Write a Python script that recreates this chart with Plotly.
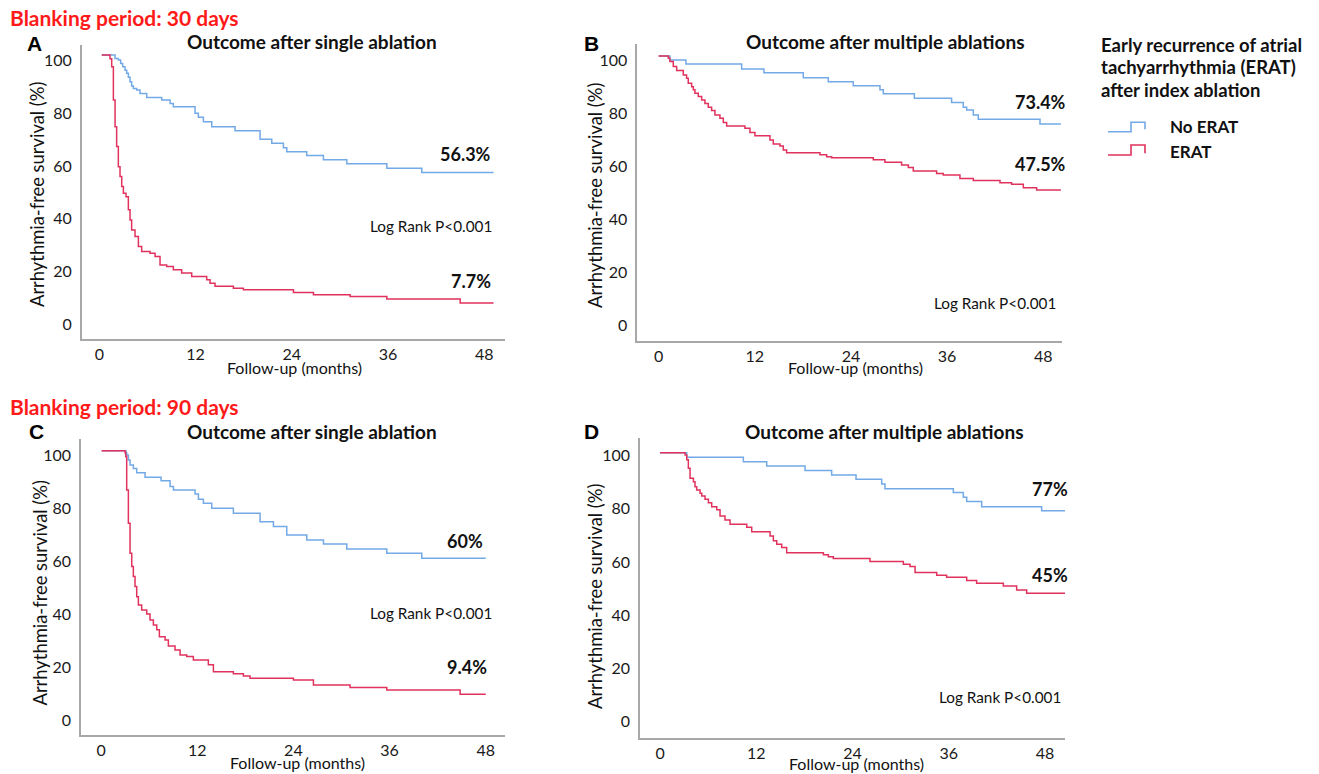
import plotly.graph_objects as go

W, H = 1319, 774
FONT = "Lato"
BLUE = "#72a9e6"
RED = "#e0325c"
AXIS = "#a8a8a8"

x_ticks = [0, 12, 24, 36, 48]
y_ticks = [0, 20, 40, 60, 80, 100]

# ---- Panel A: blanking 30 days, single ablation ----
a_noerat_t = [0.3, 1.96, 2.37, 2.66, 2.91, 3.20, 3.41, 3.62, 3.83, 4.03, 4.24, 4.66, 5.07, 5.91, 7.78, 8.82, 9.23,
              11.94, 12.35, 12.98, 14.02, 16.93, 20.05, 21.51, 22.96, 23.38, 25.87, 27.95, 30.87, 35.86, 40.22, 49.17]
a_noerat_v = [101.9, 100.6, 100.0, 98.7, 97.5, 96.2, 95.0, 93.5, 91.8, 90.2, 89.3, 88.7, 87.4, 85.9, 84.9, 83.6, 82.4,
              79.9, 78.4, 76.7, 74.8, 73.3, 70.1, 68.6, 66.9, 65.4, 63.9, 62.3, 60.8, 59.1, 57.5, 57.5]
a_erat_t = [0.3, 1.33, 1.54, 1.75, 1.96, 2.16, 2.37, 2.58, 2.79, 3.00, 3.33, 3.62, 3.83, 4.03, 4.45, 4.87, 5.28, 6.32,
            6.95, 7.57, 8.40, 9.23, 10.27, 11.52, 13.39, 13.81, 14.43, 16.72, 17.97, 24.21, 26.71, 31.28, 35.86, 45.01, 49.17]
a_erat_v = [101.9, 100.5, 97.5, 84.9, 74.8, 67.3, 59.7, 56.0, 52.2, 49.7, 48.4, 43.4, 39.6, 35.8, 33.3, 29.6, 27.7, 27.0,
            25.8, 22.6, 22.0, 20.8, 19.5, 18.2, 17.0, 15.7, 14.5, 13.8, 13.2, 12.2, 11.3, 10.7, 9.7, 8.2, 8.2]

# ---- Panel B: blanking 30 days, multiple ablations ----
b_noerat_t = [0, 1.41, 3.41, 10.36, 13.14, 18.05, 21.17, 24.29, 27.62, 28.04, 31.91, 36.56, 38.02, 38.44, 39.27, 39.89, 47.59, 50.2]
b_noerat_v = [101.5, 100.0, 98.5, 96.6, 95.2, 93.3, 91.8, 90.3, 88.7, 87.2, 85.5, 83.9, 82.1, 81.1, 79.2, 77.6, 75.8, 75.8]
b_erat_t = [0, 1.21, 1.41, 1.83, 2.25, 3.08, 3.49, 3.70, 4.12, 4.33, 4.53, 4.95, 5.37, 5.78, 6.20, 6.61, 7.03, 7.65, 8.07,
            8.49, 10.77, 11.40, 12.02, 13.89, 14.31, 15.14, 15.56, 15.97, 20.13, 20.97, 21.59, 26.79, 28.24, 30.32,
            31.16, 31.78, 34.69, 35.52, 37.60, 39.27, 42.60, 44.05, 45.51, 47.17, 50.2]
b_erat_v = [101.5, 100.6, 99.4, 97.5, 96.0, 94.3, 93.1, 91.2, 89.9, 88.7, 87.4, 86.2, 84.9, 83.6, 82.1, 80.9, 79.2, 78.0, 76.4,
            75.1, 74.2, 72.6, 71.4, 69.8, 68.3, 67.5, 66.0, 65.0, 64.2, 63.5, 63.1, 62.3, 61.4, 60.4,
            59.4, 58.1, 57.2, 56.6, 55.3, 54.5, 53.7, 53.1, 51.8, 50.9, 50.9]

# ---- Panel C: blanking 90 days, single ablation ----
c_noerat_t = [0.08, 3.12, 3.20, 3.41, 3.62, 4.03, 4.45, 5.49, 7.49, 8.61, 9.03, 11.73, 12.15, 12.77, 13.81, 16.51, 19.84,
              21.51, 23.17, 25.67, 27.75, 30.66, 35.65, 40.02, 48.0]
c_noerat_v = [101.6, 100.8, 100.0, 98.1, 96.2, 94.9, 93.3, 91.6, 90.3, 88.1, 86.8, 85.3, 83.3, 81.8, 79.9, 78.0, 74.8,
              73.0, 69.8, 67.9, 66.4, 64.5, 62.9, 61.0, 61.0]
c_erat_t = [0.08, 3.00, 3.08, 3.20, 3.41, 3.62, 3.83, 4.03, 4.24, 4.45, 4.66, 5.07, 5.70, 6.11, 6.53, 6.95, 7.28, 7.99, 8.40,
            9.23, 9.86, 10.69, 11.52, 13.39, 14.02, 16.51, 17.76, 18.59, 24.00, 26.50, 31.07, 35.65, 44.80, 48.0]
c_erat_v = [101.6, 100.8, 99.4, 86.8, 74.2, 62.9, 57.9, 54.1, 50.3, 46.5, 43.4, 41.5, 40.0, 37.7, 35.8, 34.0, 31.4, 30.2, 27.9,
            26.4, 24.5, 23.9, 22.6, 20.8, 18.2, 17.4, 16.6, 15.7, 15.1, 13.2, 12.2, 11.3, 9.7, 9.7]

# ---- Panel D: blanking 90 days, multiple ablations ----
d_noerat_t = [0, 3.33, 10.39, 13.30, 18.08, 21.40, 24.44, 27.64, 28.05, 36.57, 37.82, 38.24, 40.11, 47.59, 50.5]
d_noerat_v = [101.1, 99.4, 97.7, 96.1, 94.4, 92.7, 91.1, 89.3, 87.5, 86.1, 84.3, 82.7, 80.8, 79.3, 79.3]
d_erat_t = [0, 3.12, 3.33, 3.53, 3.74, 4.16, 4.36, 4.57, 4.99, 5.20, 5.61, 6.03, 6.44, 7.07, 7.48, 8.10, 8.73, 10.81, 11.43,
            13.72, 14.13, 14.55, 15.17, 15.79, 20.37, 20.99, 21.61, 26.18, 30.34, 31.17, 31.80, 34.50, 35.74, 38.24,
            39.48, 42.81, 44.47, 45.72, 50.5]
d_erat_v = [101.1, 100.2, 98.4, 95.2, 91.5, 90.2, 88.3, 87.1, 85.8, 84.8, 83.6, 82.3, 80.8, 79.6, 77.3, 75.8, 74.2, 73.1, 71.4,
            69.8, 68.0, 66.7, 65.4, 63.5, 62.7, 62.0, 61.3, 60.2, 59.1, 58.3, 56.0, 55.0, 54.3, 53.0,
            52.0, 51.0, 49.5, 48.2, 48.2]

panels = [
    dict(key="", noerat=(a_noerat_t, a_noerat_v), erat=(a_erat_t, a_erat_v),
         dom_px=(81.7, 505, 45, 339), xr=[-2.2, 50.6], yr=[-5.4, 105.7]),
    dict(key="2", noerat=(b_noerat_t, b_noerat_v), erat=(b_erat_t, b_erat_v),
         dom_px=(637.3, 1061.7, 44, 340.7), xr=[-2.66, 50.3], yr=[-5.9, 106.0]),
    dict(key="3", noerat=(c_noerat_t, c_noerat_v), erat=(c_erat_t, c_erat_v),
         dom_px=(81, 505, 439.3, 735), xr=[-2.5, 50.4], yr=[-5.7, 105.9]),
    dict(key="4", noerat=(d_noerat_t, d_noerat_v), erat=(d_erat_t, d_erat_v),
         dom_px=(640, 1065, 438.3, 738.3), xr=[-2.5, 50.5], yr=[-6.3, 106.5]),
]


def px(x, y):
    return x / W, 1 - y / H


fig = go.Figure()
layout = dict(width=W, height=H, margin=dict(l=0, r=0, t=0, b=0), autosize=False,
              paper_bgcolor="white", plot_bgcolor="white", showlegend=False,
              font=dict(family=FONT, color="#1a1a1a"))

for p in panels:
    k = p["key"]
    for (t, v), col in ((p["noerat"], BLUE), (p["erat"], RED)):
        fig.add_trace(go.Scatter(x=t, y=v, mode="lines", line=dict(color=col, width=1.5, shape="hv"),
                                 xaxis="x" + k, yaxis="y" + k, hoverinfo="skip"))
    x0, x1, y0, y1 = p["dom_px"]
    layout["xaxis" + k] = dict(domain=[x0 / W, x1 / W], range=p["xr"], anchor="y" + k,
                               showline=True, linecolor=AXIS, linewidth=1.5, showgrid=False, zeroline=False,
                               tickvals=x_ticks, ticks="", ticklabelstandoff=0,
                               tickfont=dict(family=FONT, size=16, color="#1a1a1a"))
    layout["yaxis" + k] = dict(domain=[1 - y1 / H, 1 - y0 / H], range=p["yr"], anchor="x" + k,
                               showline=True, linecolor=AXIS, linewidth=1.5, showgrid=False, zeroline=False,
                               tickvals=y_ticks, ticks="", ticklabelstandoff=5,
                               tickfont=dict(family=FONT, size=16, color="#1a1a1a"))

fig.update_layout(**layout)

ann = []


def text(x, y, s, size, bold=False, color="#111111", xanchor="center", angle=0, family=FONT):
    xx, yy = px(x, y)
    ann.append(dict(x=xx, y=yy, xref="paper", yref="paper", text=("<b>%s</b>" % s) if bold else s,
                    showarrow=False, xanchor=xanchor, yanchor="middle", textangle=angle,
                    font=dict(family=family, size=size, color=color)))


# Section headings
text(8, 17, "Blanking period: 30 days", 21, bold=True, color="#ff1a1a", xanchor="left")
text(8, 406, "Blanking period: 90 days", 21, bold=True, color="#ff1a1a", xanchor="left")

# Panel letters
for lx, ly, L in ((34, 43, "A"), (591.7, 43.3, "B"), (36, 431.7, "C"), (591.7, 431.7, "D")):
    text(lx, ly, L, 21, bold=True, color="#000000", family="Liberation Sans")

# Panel titles
text(311.7, 41.7, "Outcome after single ablation", 19, bold=True)
text(885, 41.7, "Outcome after multiple ablations", 19, bold=True)
text(311.7, 431.7, "Outcome after single ablation", 19, bold=True)
text(884, 431.7, "Outcome after multiple ablations", 19, bold=True)

# Axis titles
for cx, cy in ((294, 367), (855, 367), (297.5, 762.7), (856.7, 763.3)):
    text(cx, cy, "Follow-up (months)", 16)
for cx, cy in ((37, 194), (595, 195), (39, 592.5), (595, 596)):
    text(cx, cy, "Arrhythmia-free survival (%)", 18.4, angle=-90)

# Values and log-rank
text(492.7, 154, "56.3%", 18, bold=True, xanchor="right")
text(492.7, 281, "7.7%", 18, bold=True, xanchor="right")
text(494, 226, "Log Rank P<0.001", 15.3, xanchor="right")
text(1068.3, 101.7, "73.4%", 18, bold=True, xanchor="right")
text(1068.3, 164.3, "47.5%", 18, bold=True, xanchor="right")
text(1058.3, 302.7, "Log Rank P<0.001", 15.3, xanchor="right")
text(485, 540.7, "60%", 18, bold=True, xanchor="right")
text(489, 666.7, "9.4%", 18, bold=True, xanchor="right")
text(494, 612.7, "Log Rank P<0.001", 15.3, xanchor="right")
text(1070, 489, "77%", 18, bold=True, xanchor="right")
text(1070, 575, "45%", 18, bold=True, xanchor="right")
text(1063.3, 697.3, "Log Rank P<0.001", 15.3, xanchor="right")

# Legend
text(1099, 45, "Early recurrence of atrial", 18.5, bold=True, xanchor="left")
text(1099, 67, "tachyarrhythmia (ERAT)", 18.5, bold=True, xanchor="left")
text(1099, 90, "after index ablation", 18.5, bold=True, xanchor="left")
text(1168, 126, "No ERAT", 17, bold=True, xanchor="left")
text(1168, 152, "ERAT", 17, bold=True, xanchor="left")

fig.update_layout(annotations=ann)


def step_icon(xl, xm, xr, ylow, yhigh, yend, color):
    pts = [(xl, ylow), (xm, ylow), (xm, yhigh), (xr, yhigh), (xr, yend)]
    path = "M " + " L ".join("%.5f,%.5f" % px(a, b) for a, b in pts)
    fig.add_shape(type="path", path=path, xref="paper", yref="paper",
                  line=dict(color=color, width=1.6))


step_icon(1108, 1131, 1145, 131.7, 122.3, 129.3, BLUE)
step_icon(1108, 1131, 1145, 155, 145, 153.3, RED)

fig.write_html("out.html", config={"displayModeBar": False},
               post_script="document.body.style.margin='0px';")
